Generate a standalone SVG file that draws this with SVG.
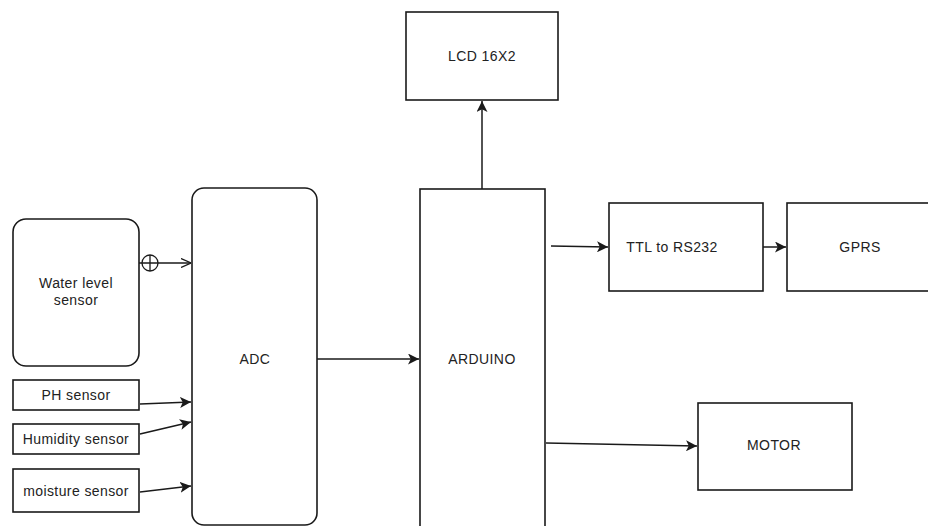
<svg xmlns="http://www.w3.org/2000/svg" width="928" height="526" viewBox="0 0 928 526">
<style>
.box{fill:#fff;stroke:#1a1a1a;stroke-width:1.6}
.t{font-family:"Liberation Sans",Arial,sans-serif;font-size:14px;letter-spacing:0.4px;fill:#222;text-anchor:middle;dominant-baseline:central}
.c{fill:none;stroke:#1a1a1a;stroke-width:1.5}
</style>
<defs>
<marker id="a" viewBox="0 0 10 10" refX="10" refY="5" markerWidth="11" markerHeight="11" markerUnits="userSpaceOnUse" orient="auto">
<path d="M0,0 L10,5 L0,10 L2.5,5 Z" fill="#1a1a1a"/>
</marker>
<marker id="o" viewBox="0 0 10 10" refX="10" refY="5" markerWidth="10" markerHeight="10" markerUnits="userSpaceOnUse" orient="auto">
<path d="M0,0.5 L10,5 L0,9.5" fill="none" stroke="#1a1a1a" stroke-width="1.3"/>
</marker>
</defs>
<rect width="928" height="526" fill="#fff"/>
<g id="water"><rect class="box" x="13" y="219" width="126" height="147" rx="13"/><text class="t" x="76" y="283">Water level</text><text class="t" x="76" y="300">sensor</text></g>
<g id="ph"><rect class="box" x="13" y="380" width="126" height="30"/><text class="t" x="76" y="395">PH sensor</text></g>
<g id="humidity"><rect class="box" x="13" y="424" width="126" height="30"/><text class="t" x="76" y="439">Humidity sensor</text></g>
<g id="moisture"><rect class="box" x="13" y="469" width="126" height="43"/><text class="t" x="76" y="491">moisture sensor</text></g>
<g id="adc"><rect class="box" x="192" y="188" width="125" height="337" rx="12"/><text class="t" x="255" y="359">ADC</text></g>
<g id="arduino"><rect class="box" x="420" y="189" width="125" height="345"/><text class="t" x="482" y="359">ARDUINO</text></g>
<g id="lcd"><rect class="box" x="406" y="12" width="152" height="88"/><text class="t" x="482" y="56">LCD 16X2</text></g>
<g id="ttl"><rect class="box" x="609" y="203" width="154" height="88"/><text class="t" x="672" y="247">TTL to RS232</text></g>
<g id="gprs"><rect class="box" x="787" y="203" width="150" height="88"/><text class="t" x="860" y="247">GPRS</text></g>
<g id="motor"><rect class="box" x="698" y="403" width="154" height="87"/><text class="t" x="774" y="445">MOTOR</text></g>
<g id="connectors">
<circle cx="150" cy="263" r="8" fill="none" stroke="#1a1a1a" stroke-width="1.3"/>
<line x1="150" y1="255" x2="150" y2="271" stroke="#1a1a1a" stroke-width="1.3"/>
<line class="c" x1="139" y1="263" x2="191" y2="263" marker-end="url(#o)"/>
<line class="c" x1="140" y1="404" x2="191" y2="402" marker-end="url(#a)"/>
<line class="c" x1="140" y1="434" x2="191" y2="422" marker-end="url(#a)"/>
<line class="c" x1="140" y1="492" x2="191" y2="486" marker-end="url(#a)"/>
<line class="c" x1="317" y1="359" x2="419" y2="359" marker-end="url(#a)"/>
<line class="c" x1="482" y1="189" x2="482" y2="101" marker-end="url(#a)"/>
<line class="c" x1="551" y1="246" x2="608" y2="247" marker-end="url(#a)"/>
<line class="c" x1="763" y1="247" x2="786" y2="247" marker-end="url(#a)"/>
<line class="c" x1="546" y1="443" x2="697" y2="446" marker-end="url(#a)"/>
</g>
</svg>
